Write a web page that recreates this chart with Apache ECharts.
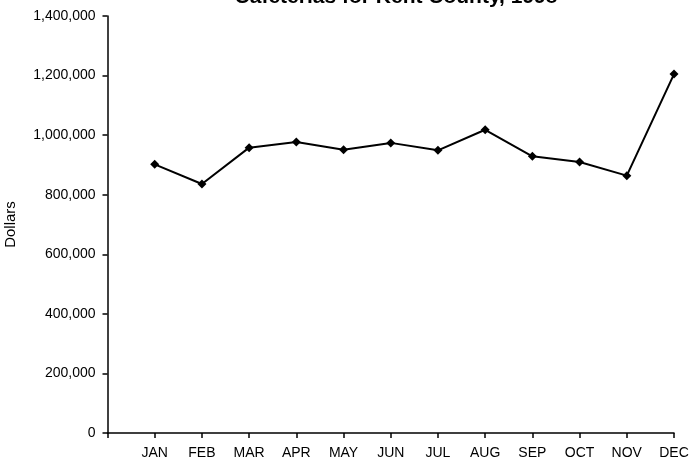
<!DOCTYPE html>
<html>
<head>
<meta charset="utf-8">
<script src="https://cdn.jsdelivr.net/npm/echarts@6/dist/echarts.min.js"></script>
<style>
html,body{margin:0;padding:0;background:#fff;}
#chart{width:699px;height:459px;}
</style>
</head>
<body>
<div id="chart"></div>
<script>
var titleText = 'Cafeterias for Kent County, 1998';
var yAxisName = 'Dollars';
var months = ['JAN','FEB','MAR','APR','MAY','JUN','JUL','AUG','SEP','OCT','NOV','DEC'];
var sales = [902000, 836000, 958000, 977000, 951000, 974000, 949000, 1018000, 929000, 910000, 864000, 1205000];
var yTicks = [0, 200000, 400000, 600000, 800000, 1000000, 1200000, 1400000];

var font = "'Liberation Sans', Arial, sans-serif";
var chart = echarts.init(document.getElementById('chart'));
var seriesData = months.map(function (m, i) { return [i + 1, sales[i]]; });

chart.setOption({
  animation: false,
  backgroundColor: '#fff',
  title: {
    text: titleText,
    left: 396,
    top: -13,
    padding: 0,
    textAlign: 'center',
    textStyle: { fontFamily: font, fontSize: 21, fontWeight: 'bold', color: '#000' }
  },
  grid: { left: 107.5, right: 25, top: 16, bottom: 26, containLabel: false, outerBoundsMode: 'none' },
  xAxis: {
    type: 'value',
    min: 0,
    max: months.length,
    interval: 1,
    splitLine: { show: false },
    axisLine: { show: true, onZero: false, lineStyle: { color: '#000', width: 1.5 } },
    axisTick: { show: true, length: 5, lineStyle: { color: '#000', width: 1.5 } },
    axisLabel: {
      margin: 13,
      color: '#000',
      fontFamily: font,
      fontSize: 14,
      showMinLabel: true,
      showMaxLabel: true,
      formatter: function (v) { return months[v - 1] || ''; }
    }
  },
  yAxis: {
    type: 'value',
    min: yTicks[0],
    max: yTicks[yTicks.length - 1],
    interval: yTicks[1] - yTicks[0],
    name: yAxisName,
    nameLocation: 'middle',
    nameGap: 89,
    nameRotate: 90,
    nameTextStyle: { fontFamily: font, fontSize: 15, color: '#000' },
    splitLine: { show: false },
    axisLine: { show: true, lineStyle: { color: '#000', width: 1.5 } },
    axisTick: { show: true, length: 5, lineStyle: { color: '#000', width: 1.5 } },
    axisLabel: {
      margin: 12,
      color: '#000',
      fontFamily: font,
      fontSize: 14,
      formatter: function (v) { return v.toLocaleString('en-US'); }
    }
  },
  series: [{
    type: 'line',
    data: seriesData,
    symbol: 'diamond',
    symbolSize: 9,
    showAllSymbol: true,
    lineStyle: { color: '#000', width: 2 },
    itemStyle: { color: '#000' }
  }]
});
</script>
</body>
</html>
